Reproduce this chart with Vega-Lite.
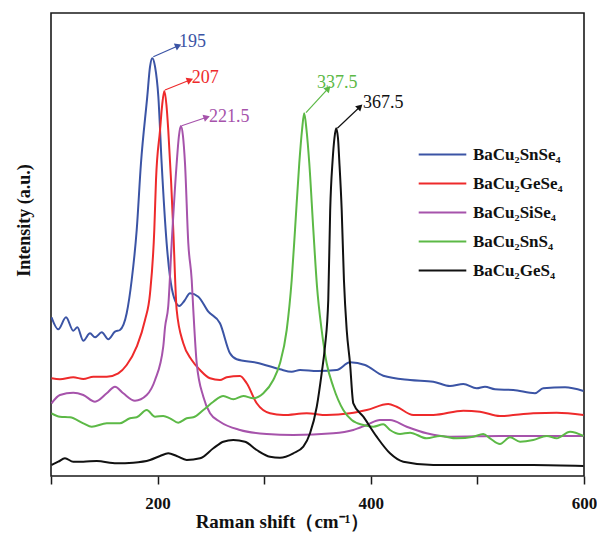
{
"$schema": "https://vega.github.io/schema/vega-lite/v6.json",
"width": 533, "height": 463,
"autosize": {"type": "none"},
"padding": {"left": 51, "top": 13, "right": 13, "bottom": 57},
"background": "white",
"config": {"view": {"stroke": "#1a1a1a", "strokeWidth": 1.6}, "font": "Liberation Serif"},
"datasets": {
"spectra": [
{"series":"SnSe4","shift":100.5,"intensity":158.7},{"series":"SnSe4","shift":106.8,"intensity":146.7},{"series":"SnSe4","shift":114.1,"intensity":158.7},{"series":"SnSe4","shift":120.9,"intensity":145.3},{"series":"SnSe4","shift":124.7,"intensity":148.7},{"series":"SnSe4","shift":130.3,"intensity":135.3},{"series":"SnSe4","shift":136.6,"intensity":142.7},{"series":"SnSe4","shift":141.3,"intensity":138.7},{"series":"SnSe4","shift":147.6,"intensity":143.7},{"series":"SnSe4","shift":153.8,"intensity":136.7},{"series":"SnSe4","shift":160,"intensity":144.3},{"series":"SnSe4","shift":164.7,"intensity":146},{"series":"SnSe4","shift":171,"intensity":162.7},{"series":"SnSe4","shift":175.7,"intensity":196},{"series":"SnSe4","shift":180.4,"intensity":246},{"series":"SnSe4","shift":184.4,"intensity":312.7},{"series":"SnSe4","shift":190.3,"intensity":379.3},{"series":"SnSe4","shift":192.9,"intensity":409.3},{"series":"SnSe4","shift":195,"intensity":417.7},{"series":"SnSe4","shift":197.6,"intensity":409.3},{"series":"SnSe4","shift":200.7,"intensity":379.3},{"series":"SnSe4","shift":203.8,"intensity":312.7},{"series":"SnSe4","shift":208.5,"intensity":232.7},{"series":"SnSe4","shift":211.6,"intensity":199.3},{"series":"SnSe4","shift":215.5,"intensity":178},{"series":"SnSe4","shift":220.4,"intensity":170},{"series":"SnSe4","shift":225,"intensity":175},{"series":"SnSe4","shift":230.4,"intensity":182.7},{"series":"SnSe4","shift":238.2,"intensity":179.3},{"series":"SnSe4","shift":247.6,"intensity":164.3},{"series":"SnSe4","shift":258.5,"intensity":152.7},{"series":"SnSe4","shift":267.9,"intensity":122.7},{"series":"SnSe4","shift":274.2,"intensity":116.7},{"series":"SnSe4","shift":293,"intensity":113.3},{"series":"SnSe4","shift":314.8,"intensity":106.7},{"series":"SnSe4","shift":325.8,"intensity":104.3},{"series":"SnSe4","shift":333.6,"intensity":106},{"series":"SnSe4","shift":350,"intensity":105},{"series":"SnSe4","shift":368,"intensity":106},{"series":"SnSe4","shift":380.5,"intensity":113.7},{"series":"SnSe4","shift":394.6,"intensity":111},{"series":"SnSe4","shift":411.7,"intensity":100.3},{"series":"SnSe4","shift":436.8,"intensity":96},{"series":"SnSe4","shift":458.6,"intensity":94.3},{"series":"SnSe4","shift":474.3,"intensity":90},{"series":"SnSe4","shift":486.8,"intensity":92},{"series":"SnSe4","shift":499.3,"intensity":87.7},{"series":"SnSe4","shift":507.1,"intensity":89.3},{"series":"SnSe4","shift":516.5,"intensity":86.7},{"series":"SnSe4","shift":533.7,"intensity":86},{"series":"SnSe4","shift":554,"intensity":82.7},{"series":"SnSe4","shift":561.8,"intensity":87.7},{"series":"SnSe4","shift":582.2,"intensity":88.7},{"series":"SnSe4","shift":599.5,"intensity":85},
{"series":"GeSe4","shift":100.5,"intensity":97.7},{"series":"GeSe4","shift":108.4,"intensity":96.7},{"series":"GeSe4","shift":120.9,"intensity":98.7},{"series":"GeSe4","shift":130.3,"intensity":97},{"series":"GeSe4","shift":139.7,"intensity":99.3},{"series":"GeSe4","shift":152.3,"intensity":99.3},{"series":"GeSe4","shift":163.1,"intensity":102.7},{"series":"GeSe4","shift":171,"intensity":111},{"series":"GeSe4","shift":180.4,"intensity":129.3},{"series":"GeSe4","shift":188.2,"intensity":156},{"series":"GeSe4","shift":192.9,"intensity":182.7},{"series":"GeSe4","shift":196.9,"intensity":246},{"series":"GeSe4","shift":198.5,"intensity":296},{"series":"GeSe4","shift":202.3,"intensity":346},{"series":"GeSe4","shift":204.3,"intensity":371},{"series":"GeSe4","shift":206.3,"intensity":385},{"series":"GeSe4","shift":208.3,"intensity":371},{"series":"GeSe4","shift":210,"intensity":346},{"series":"GeSe4","shift":212.6,"intensity":296},{"series":"GeSe4","shift":214.7,"intensity":246},{"series":"GeSe4","shift":217.9,"intensity":166},{"series":"GeSe4","shift":224.1,"intensity":132.7},{"series":"GeSe4","shift":232,"intensity":116},{"series":"GeSe4","shift":239.8,"intensity":106},{"series":"GeSe4","shift":249.2,"intensity":97.7},{"series":"GeSe4","shift":258.5,"intensity":96},{"series":"GeSe4","shift":264.8,"intensity":98.7},{"series":"GeSe4","shift":277.3,"intensity":100},{"series":"GeSe4","shift":283.6,"intensity":92.7},{"series":"GeSe4","shift":293,"intensity":72.7},{"series":"GeSe4","shift":305.4,"intensity":62.7},{"series":"GeSe4","shift":317.9,"intensity":61},{"series":"GeSe4","shift":339.9,"intensity":62.7},{"series":"GeSe4","shift":358.6,"intensity":61},{"series":"GeSe4","shift":380.5,"intensity":62.7},{"series":"GeSe4","shift":396.2,"intensity":66},{"series":"GeSe4","shift":416.4,"intensity":72},{"series":"GeSe4","shift":424.3,"intensity":69.3},{"series":"GeSe4","shift":439.9,"intensity":61},{"series":"GeSe4","shift":458.6,"intensity":61},{"series":"GeSe4","shift":486.8,"intensity":65.3},{"series":"GeSe4","shift":502.4,"intensity":64.3},{"series":"GeSe4","shift":521.2,"intensity":60},{"series":"GeSe4","shift":552.4,"intensity":62.7},{"series":"GeSe4","shift":574.4,"intensity":63.3},{"series":"GeSe4","shift":599.5,"intensity":61},
{"series":"SiSe4","shift":100.5,"intensity":72.7},{"series":"SiSe4","shift":108.4,"intensity":81},{"series":"SiSe4","shift":120.9,"intensity":83.3},{"series":"SiSe4","shift":130.3,"intensity":81},{"series":"SiSe4","shift":141.3,"intensity":74.3},{"series":"SiSe4","shift":152.3,"intensity":82.7},{"series":"SiSe4","shift":160,"intensity":89.3},{"series":"SiSe4","shift":167.8,"intensity":82.7},{"series":"SiSe4","shift":178.8,"intensity":75.3},{"series":"SiSe4","shift":189.8,"intensity":81},{"series":"SiSe4","shift":197.6,"intensity":96},{"series":"SiSe4","shift":205.3,"intensity":129.3},{"series":"SiSe4","shift":207,"intensity":149},{"series":"SiSe4","shift":210,"intensity":170},{"series":"SiSe4","shift":213.2,"intensity":232.7},{"series":"SiSe4","shift":217.9,"intensity":312.7},{"series":"SiSe4","shift":220,"intensity":340},{"series":"SiSe4","shift":221.8,"intensity":350},{"series":"SiSe4","shift":223.8,"intensity":340},{"series":"SiSe4","shift":225.7,"intensity":312.7},{"series":"SiSe4","shift":228.8,"intensity":232.7},{"series":"SiSe4","shift":232,"intensity":196},{"series":"SiSe4","shift":233.5,"intensity":166},{"series":"SiSe4","shift":236.7,"intensity":112.7},{"series":"SiSe4","shift":242.9,"intensity":79.3},{"series":"SiSe4","shift":249.2,"intensity":62.7},{"series":"SiSe4","shift":258.5,"intensity":54.3},{"series":"SiSe4","shift":277.3,"intensity":46},{"series":"SiSe4","shift":302.3,"intensity":42},{"series":"SiSe4","shift":327.3,"intensity":41},{"series":"SiSe4","shift":364.8,"intensity":42.7},{"series":"SiSe4","shift":383.6,"intensity":46},{"series":"SiSe4","shift":396.2,"intensity":51},{"series":"SiSe4","shift":408.6,"intensity":56},{"series":"SiSe4","shift":418,"intensity":56},{"series":"SiSe4","shift":433.7,"intensity":49.3},{"series":"SiSe4","shift":452.4,"intensity":42.7},{"series":"SiSe4","shift":474.3,"intensity":39.3},{"series":"SiSe4","shift":521.2,"intensity":40},{"series":"SiSe4","shift":599.5,"intensity":40},
{"series":"SnS4","shift":100.5,"intensity":62.7},{"series":"SnS4","shift":108.4,"intensity":59.3},{"series":"SnS4","shift":117.8,"intensity":58.7},{"series":"SnS4","shift":130.3,"intensity":52.7},{"series":"SnS4","shift":138.2,"intensity":49.3},{"series":"SnS4","shift":152.3,"intensity":52.7},{"series":"SnS4","shift":164.7,"intensity":52.7},{"series":"SnS4","shift":174.1,"intensity":57.7},{"series":"SnS4","shift":180.4,"intensity":58.7},{"series":"SnS4","shift":189.8,"intensity":66},{"series":"SnS4","shift":197.6,"intensity":59.3},{"series":"SnS4","shift":205.3,"intensity":60},{"series":"SnS4","shift":211.6,"intensity":57.7},{"series":"SnS4","shift":219.4,"intensity":53.3},{"series":"SnS4","shift":227.3,"intensity":57.7},{"series":"SnS4","shift":233.5,"intensity":58.7},{"series":"SnS4","shift":242.9,"intensity":66},{"series":"SnS4","shift":252.3,"intensity":74.3},{"series":"SnS4","shift":261.6,"intensity":80},{"series":"SnS4","shift":271,"intensity":76.7},{"series":"SnS4","shift":280.4,"intensity":80},{"series":"SnS4","shift":289.8,"intensity":77.7},{"series":"SnS4","shift":299.2,"intensity":82.7},{"series":"SnS4","shift":308.5,"intensity":96},{"series":"SnS4","shift":314.8,"intensity":112.7},{"series":"SnS4","shift":321.1,"intensity":146},{"series":"SnS4","shift":325.8,"intensity":196},{"series":"SnS4","shift":328.9,"intensity":246},{"series":"SnS4","shift":332.9,"intensity":312.7},{"series":"SnS4","shift":335.5,"intensity":346},{"series":"SnS4","shift":337.5,"intensity":362.7},{"series":"SnS4","shift":339.7,"intensity":346},{"series":"SnS4","shift":342.3,"intensity":312.7},{"series":"SnS4","shift":346.1,"intensity":246},{"series":"SnS4","shift":349.5,"intensity":190},{"series":"SnS4","shift":353.9,"intensity":146},{"series":"SnS4","shift":358.6,"intensity":112.7},{"series":"SnS4","shift":364.8,"intensity":89.3},{"series":"SnS4","shift":374.2,"intensity":66},{"series":"SnS4","shift":382.1,"intensity":56},{"series":"SnS4","shift":393,"intensity":51},{"series":"SnS4","shift":402.3,"intensity":49.3},{"series":"SnS4","shift":411.7,"intensity":51.7},{"series":"SnS4","shift":418,"intensity":46},{"series":"SnS4","shift":427.4,"intensity":42},{"series":"SnS4","shift":436.8,"intensity":43.3},{"series":"SnS4","shift":452.4,"intensity":37.7},{"series":"SnS4","shift":464.9,"intensity":40},{"series":"SnS4","shift":480.6,"intensity":37.7},{"series":"SnS4","shift":496.2,"intensity":39.3},{"series":"SnS4","shift":505.5,"intensity":42},{"series":"SnS4","shift":511.8,"intensity":37.7},{"series":"SnS4","shift":521.2,"intensity":32},{"series":"SnS4","shift":530.6,"intensity":38.7},{"series":"SnS4","shift":540,"intensity":34.3},{"series":"SnS4","shift":552.4,"intensity":36},{"series":"SnS4","shift":565,"intensity":40},{"series":"SnS4","shift":574.4,"intensity":37.7},{"series":"SnS4","shift":586.9,"intensity":44.3},{"series":"SnS4","shift":599.5,"intensity":40},
{"series":"GeS4","shift":100.5,"intensity":11},{"series":"GeS4","shift":106.8,"intensity":14.3},{"series":"GeS4","shift":113.1,"intensity":17.7},{"series":"GeS4","shift":120.9,"intensity":14.3},{"series":"GeS4","shift":130.3,"intensity":14.3},{"series":"GeS4","shift":142.9,"intensity":15},{"series":"GeS4","shift":161.6,"intensity":12.7},{"series":"GeS4","shift":177.2,"intensity":13.3},{"series":"GeS4","shift":192.9,"intensity":16},{"series":"GeS4","shift":202.3,"intensity":20},{"series":"GeS4","shift":210,"intensity":22.7},{"series":"GeS4","shift":217.9,"intensity":20},{"series":"GeS4","shift":227.3,"intensity":16},{"series":"GeS4","shift":239.8,"intensity":17.7},{"series":"GeS4","shift":252.3,"intensity":27.7},{"series":"GeS4","shift":261.6,"intensity":34.3},{"series":"GeS4","shift":271,"intensity":36},{"series":"GeS4","shift":282,"intensity":34.3},{"series":"GeS4","shift":293,"intensity":26},{"series":"GeS4","shift":305.4,"intensity":19.3},{"series":"GeS4","shift":314.8,"intensity":18.3},{"series":"GeS4","shift":327.3,"intensity":22.7},{"series":"GeS4","shift":336.7,"intensity":29.3},{"series":"GeS4","shift":343,"intensity":42.7},{"series":"GeS4","shift":349.3,"intensity":69.3},{"series":"GeS4","shift":353.9,"intensity":102.7},{"series":"GeS4","shift":357,"intensity":129.3},{"series":"GeS4","shift":360.1,"intensity":176},{"series":"GeS4","shift":361.9,"intensity":266},{"series":"GeS4","shift":364.2,"intensity":316},{"series":"GeS4","shift":365.9,"intensity":338},{"series":"GeS4","shift":367.5,"intensity":347.7},{"series":"GeS4","shift":369.2,"intensity":338},{"series":"GeS4","shift":370.4,"intensity":316},{"series":"GeS4","shift":372.7,"intensity":266},{"series":"GeS4","shift":374.8,"intensity":196},{"series":"GeS4","shift":377.4,"intensity":146},{"series":"GeS4","shift":380.5,"intensity":112.7},{"series":"GeS4","shift":383.6,"intensity":72.7},{"series":"GeS4","shift":393,"intensity":59.3},{"series":"GeS4","shift":405.5,"intensity":39.3},{"series":"GeS4","shift":418,"intensity":22.7},{"series":"GeS4","shift":430.5,"intensity":14.3},{"series":"GeS4","shift":458.6,"intensity":11},{"series":"GeS4","shift":505.5,"intensity":11},{"series":"GeS4","shift":552.4,"intensity":11},{"series":"GeS4","shift":599.5,"intensity":10}
],
"peaks": [
{"series":"SnSe4","peak":196,"top":419.3,"tipX":219.4,"tipY":430.3,"labelX":220,"labelY":434.3,"label":"195"},
{"series":"GeSe4","peak":206.9,"top":386,"tipX":230.4,"tipY":396,"labelX":232,"labelY":398,"label":"207"},
{"series":"SiSe4","peak":222.6,"top":350.3,"tipX":246.1,"tipY":358.7,"labelX":248.2,"labelY":359,"label":"221.5"},
{"series":"SnS4","peak":339.2,"top":363.3,"tipX":360.1,"tipY":387.7,"labelX":349.5,"labelY":393.5,"label":"337.5"},
{"series":"GeS4","peak":368.6,"top":347.7,"tipX":389.9,"tipY":369.3,"labelX":392.7,"labelY":373,"label":"367.5"}
]
},
"layer": [
{"data": {"name": "spectra"},
 "mark": {"type": "line", "interpolate": "monotone", "strokeWidth": 2, "clip": true},
 "encoding": {
  "x": {"field": "shift", "type": "quantitative",
   "scale": {"domain": [100, 600], "nice": false, "zero": false},
   "axis": {"values": [100, 200, 300, 400, 500, 600], "labelExpr": "datum.value % 200 == 0 ? datum.label : ''",
    "domain": false, "grid": false, "ticks": true, "tickSize": 8, "tickWidth": 1.5, "tickColor": "#1a1a1a",
    "labelFont": "Liberation Serif", "labelFontWeight": "bold", "labelFontSize": 17, "labelColor": "#111",
    "labelBaseline": "alphabetic", "labelPadding": 24, "labelFlush": false,
    "title": "Raman shift（cm⁻¹）", "titleFont": "Liberation Serif", "titleFontWeight": "bold", "titleFontSize": 19,
    "titleColor": "#111", "titleX": 231, "titleY": 51.5, "titleAlign": "center", "titleBaseline": "alphabetic", "titleAnchor": null}},
  "y": {"field": "intensity", "type": "quantitative",
   "scale": {"domain": [0, 463], "nice": false, "zero": false},
   "axis": {"labels": false, "ticks": false, "domain": false, "grid": false,
    "title": "Intensity (a.u.)", "titleFont": "Liberation Serif", "titleFontWeight": "bold", "titleFontSize": 18,
    "titleColor": "#111", "titleX": -22, "titleY": 207, "titleAngle": -90, "titleAlign": "center", "titleBaseline": "alphabetic", "titleAnchor": null}},
  "color": {"field": "series", "type": "nominal",
   "scale": {"domain": ["SnSe4", "GeSe4", "SiSe4", "SnS4", "GeS4"], "range": ["#3B54A5", "#EE2A2B", "#A653AB", "#5CB946", "#111111"]},
   "legend": {"orient": "none", "legendX": 373, "legendY": 123, "title": null, "padding": 0,
    "symbolType": "M-1.4,0H1.4", "symbolSize": 1156, "symbolStrokeWidth": 2.2,
    "labelFont": "Liberation Serif", "labelFontWeight": "bold", "labelFontSize": 17, "labelColor": "#111",
    "labelOffset": 12, "rowPadding": 2,
    "labelExpr": "{'SnSe4':'BaCu₂SnSe₄','GeSe4':'BaCu₂GeSe₄','SiSe4':'BaCu₂SiSe₄','SnS4':'BaCu₂SnS₄','GeS4':'BaCu₂GeS₄'}[datum.label]"}}
 }},
{"data": {"name": "peaks"},
 "mark": {"type": "rule", "strokeWidth": 1.2},
 "encoding": {
  "x": {"field": "peak", "type": "quantitative"}, "y": {"field": "top", "type": "quantitative"},
  "x2": {"field": "tipX"}, "y2": {"field": "tipY"},
  "color": {"field": "series", "type": "nominal"}}},
{"data": {"name": "peaks"},
 "transform": [{"calculate": "atan2(-(datum.tipY - datum.top), (datum.tipX - datum.peak) * 533 / 500) * 180 / PI", "as": "angle"}],
 "mark": {"type": "point", "shape": "triangle-right", "filled": true, "size": 55, "opacity": 1},
 "encoding": {
  "x": {"field": "tipX", "type": "quantitative"}, "y": {"field": "tipY", "type": "quantitative"},
  "angle": {"field": "angle", "type": "quantitative", "scale": null},
  "color": {"field": "series", "type": "nominal"}}},
{"data": {"name": "peaks"},
 "mark": {"type": "text", "align": "left", "baseline": "middle", "fontSize": 18, "font": "Liberation Serif"},
 "encoding": {
  "x": {"field": "labelX", "type": "quantitative"}, "y": {"field": "labelY", "type": "quantitative"},
  "text": {"field": "label"},
  "color": {"field": "series", "type": "nominal"}}}
]
}
